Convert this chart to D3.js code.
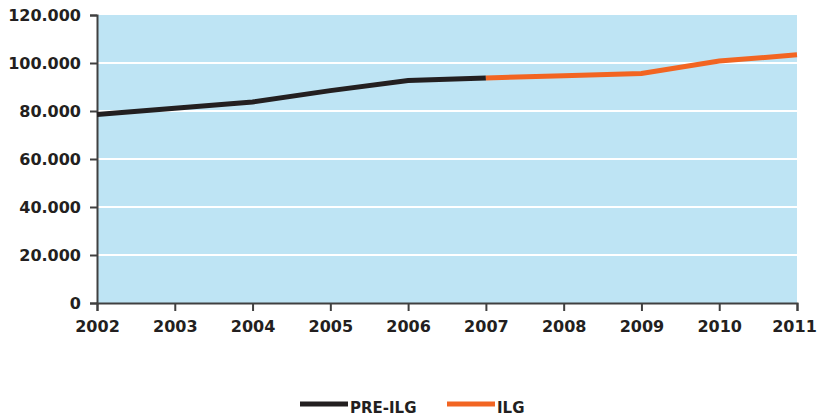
<!DOCTYPE html>
<html>
<head>
<meta charset="utf-8">
<script src="https://cdn.jsdelivr.net/npm/d3@7"></script>
<style>
  html, body { margin: 0; padding: 0; background: #fff; }
  svg text { font-family: "DejaVu Sans", sans-serif; font-weight: bold; fill: #231f20; }
</style>
</head>
<body>
<svg id="chart" width="818" height="417"></svg>
<script>
// data
const years = [2002, 2003, 2004, 2005, 2006, 2007, 2008, 2009, 2010, 2011]
const preIlgYears = [2002, 2003, 2004, 2005, 2006, 2007]
const preIlgValues = [78500, 81100, 83750, 88500, 92700, 93800]
const ilgYears = [2007, 2008, 2009, 2010, 2011]
const ilgValues = [93800, 94700, 95600, 100800, 103400]
const yTicks = [0, 20000, 40000, 60000, 80000, 100000, 120000]
const legendLabels = ['PRE-ILG', 'ILG']
const seriesColors = ['#231f20', '#f26522']

const margin = { top: 15, right: 21, bottom: 114, left: 97 }
const width = 818 - margin.left - margin.right
const height = 417 - margin.top - margin.bottom

const svg = d3.select('#chart')
const g = svg.append('g')
  .attr('transform', `translate(${ margin.left },${ margin.top })`)

const x = d3.scaleLinear().domain([2002, 2011]).range([0, width])
const y = d3.scaleLinear().domain([0, 120000]).range([height, 0])

g.append('rect')
  .attr('width', width)
  .attr('height', height)
  .style('fill', '#bee4f4')

// white gridlines
g.selectAll('line.grid').data(yTicks.slice(1, -1))
  .enter().append('line')
    .attr('class', 'grid')
    .attr('x1', 0)
    .attr('x2', width)
    .attr('y1', d => y(d))
    .attr('y2', d => y(d))
    .style('stroke', '#fff')
    .style('stroke-width', 2)

const fmt = d => d === 0 ? '0' : d3.format(',')(d).replace(/,/g, '.')

const yAxis = g.append('g')
  .call(d3.axisLeft(y).tickValues(yTicks).tickFormat(fmt).tickSize(7).tickPadding(9))
yAxis.selectAll('text').style('font-size', '16px').attr('dy', '0.36em')

const xAxis = g.append('g')
  .attr('transform', `translate(0,${ height })`)
  .call(d3.axisBottom(x).tickValues(years).tickFormat(d3.format('d')).tickSize(8).tickPadding(10))
xAxis.selectAll('text')
  .style('font-size', '16px')
  .attr('dx', d => d === 2011 ? -3 : 0)

svg.selectAll('.domain, .tick line')
  .style('stroke', '#404040')
  .style('stroke-width', 2)

const line = d3.line()
  .x(d => x(d[0]))
  .y(d => y(d[1]))

g.append('path')
  .datum(preIlgYears.map((yr, i) => [yr, preIlgValues[i]]))
  .attr('d', line)
  .style('fill', 'none')
  .style('stroke', seriesColors[0])
  .style('stroke-width', 5)

g.append('path')
  .datum(ilgYears.map((yr, i) => [yr, ilgValues[i]]))
  .attr('d', line)
  .style('fill', 'none')
  .style('stroke', seriesColors[1])
  .style('stroke-width', 5)

// legend
const legend = svg.append('g').attr('transform', 'translate(300,404)')
const item = legend.selectAll('g').data(legendLabels)
  .enter().append('g')
    .attr('transform', (d, i) => `translate(${ i * 147 },0)`)
item.append('line')
  .attr('x1', 0).attr('x2', 48)
  .style('stroke', (d, i) => seriesColors[i])
  .style('stroke-width', 5)
item.append('text')
  .attr('x', 50)
  .attr('y', 9)
  .style('font-size', '15px')
  .text(d => d)
</script>
</body>
</html>
